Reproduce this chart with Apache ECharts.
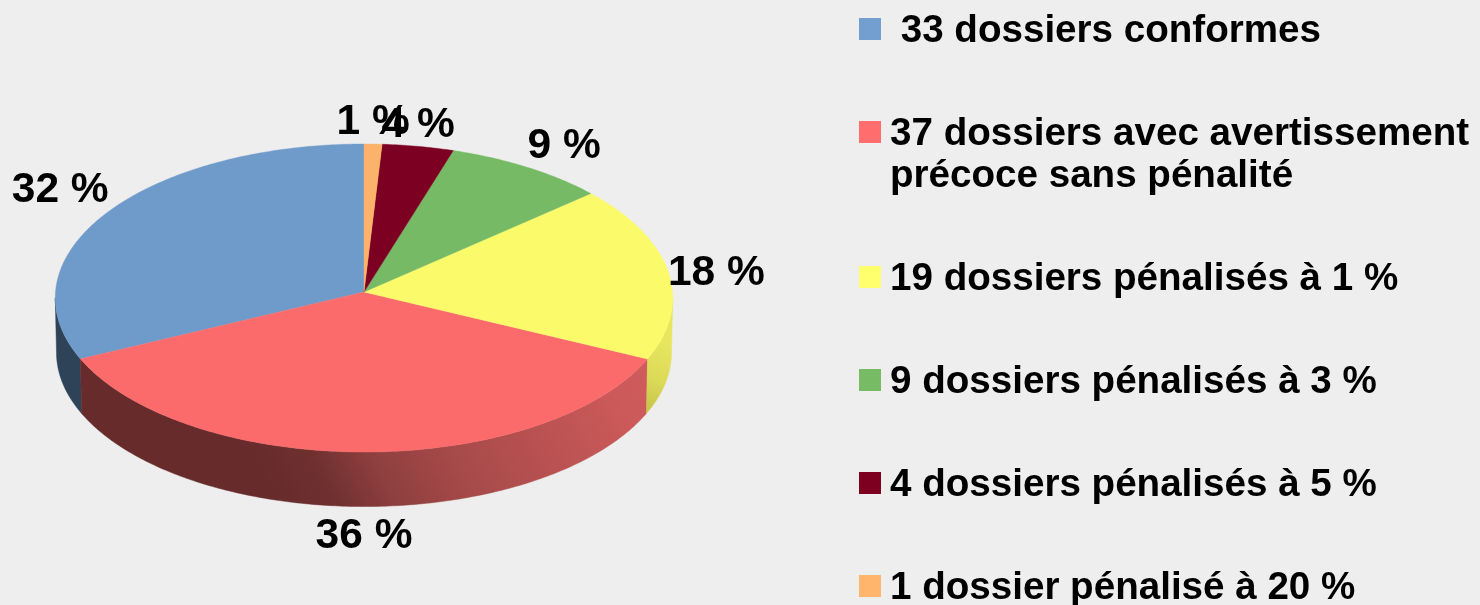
<!DOCTYPE html>
<html>
<head>
<meta charset="utf-8">
<style>html,body{margin:0;padding:0;background:#eeeeee;overflow:hidden}#c{width:1480px;height:605px}</style>
<script src="https://cdn.jsdelivr.net/npm/echarts@6/dist/echarts.min.js"></script>
</head>
<body>
<div id="c"></div>
<script>
const categories = [
  "\u00a033 dossiers conformes",
  "37 dossiers avec avertissement\nprécoce sans pénalité",
  "19 dossiers pénalisés à 1 %",
  "9 dossiers pénalisés à 3 %",
  "4 dossiers pénalisés à 5 %",
  "1 dossier pénalisé à 20 %"
];
const values = [33, 37, 19, 9, 4, 1];
const percentLabels = ["32 %", "36 %", "18 %", "9 %", "4 %", "1 %"];
const topColors = ["#6f9bcb", "#fc6b6b", "#fafa6a", "#76ba65", "#7b0022", "#fbb26a"];
const legendColors = ["#729fcf", "#ff6d6d", "#ffff6d", "#77bc65", "#7e0021", "#ffb66c"];
const wallColors = ["#2f4358", "", "", "#3f6035", "#42000f", "#855e36"];

const FONT = "Liberation Sans";
const apex = [364, 292], A = 308.5, B = 153.8, K = 0.039, DEPTH = 54.5, BASE_SCALE = 0.996;
const total = values.reduce((a, b) => a + b, 0);
const silhouette = Math.acos(-K);

function project(theta, dy, sx) {
  const s = -Math.sin(theta), c = Math.cos(theta), d = 1 + K * c;
  return [apex[0] + A * (sx || 1) * s / d, apex[1] - B * c / d + (dy || 0)];
}
function arc(a0, a1, dy, sx) {
  const n = Math.max(2, Math.ceil(Math.abs(a1 - a0) / 0.012)), out = [];
  for (let i = 0; i <= n; i++) out.push(project(a0 + (a1 - a0) * i / n, dy, sx));
  return out;
}
function angleOf(sum) { return sum / total * Math.PI * 2; }

const redWall = new echarts.graphic.LinearGradient(270, 500, 640, 310, [
  { offset: 0, color: "#672b2b" },
  { offset: 0.13, color: "#6e2f2f" },
  { offset: 0.27, color: "#8f3f3f" },
  { offset: 0.449, color: "#a84a4a" },
  { offset: 0.86, color: "#cd5a5a" },
  { offset: 1, color: "#d05c5c" }
], true);
const yellowWall = new echarts.graphic.LinearGradient(648, 405, 672, 345, [
  { offset: 0, color: "#c8c84c" },
  { offset: 0.4, color: "#dcd958" },
  { offset: 1, color: "#e8e55e" }
], true);

function renderSlice(i) {
  return function () {
    const before = values.slice(0, i).reduce((a, b) => a + b, 0);
    const a0 = angleOf(before), a1 = angleOf(before + values[i]);
    const children = [];
    const w0 = Math.max(a0, silhouette), w1 = Math.min(a1, Math.PI * 2 - silhouette);
    if (w1 > w0) {
      const fill = i === 1 ? redWall : i === 2 ? yellowWall : wallColors[i];
      children.push({
        type: "polygon",
        shape: { points: arc(w0, w1, 0).concat(arc(w1, w0, DEPTH, BASE_SCALE)) },
        style: { fill: fill, stroke: fill, lineWidth: 0.5 }
      });
    }
    children.push({
      type: "polygon",
      shape: { points: [apex].concat(arc(a0, a1, 0)) },
      style: { fill: topColors[i], stroke: topColors[i], lineWidth: 0.4 }
    });
    const mid = (a0 + a1) / 2, s = -Math.sin(mid), c = Math.cos(mid);
    const front = c < -0.3;
    const p = project(mid, front ? DEPTH : 0);
    children.push({
      type: "text",
      z2: 100,
      style: {
        x: p[0],
        y: p[1] + (front ? 8 : c > 0.3 ? 0 : 2),
        text: percentLabels[i],
        font: "bold 42.5px '" + FONT + "'",
        fill: "#000",
        align: s > 0.3 ? "left" : s < -0.3 ? "right" : "center",
        verticalAlign: c > 0.3 ? "bottom" : front ? "top" : "middle"
      }
    });
    return { type: "group", children: children };
  };
}

const legendBase = {
  orient: "vertical",
  left: 859,
  height: 1200,
  padding: 0,
  itemWidth: 22,
  itemHeight: 26,
  itemGap: 61,
  selectedMode: false,
  // a 22px square sitting at the top of a 26px box, so the text sits 2px lower than the icon
  icon: "path://M0 0L22 0L22 22L0 22ZM0 26L0 26",
  formatter: n => n.split("\n")[0],
  textStyle: {
    fontFamily: FONT, fontWeight: "bold", fontSize: 38.6, lineHeight: 42,
    color: "#000", padding: [0, 0, 0, 4]
  }
};

const chart = echarts.init(document.getElementById("c"), null, { renderer: "canvas" });
chart.setOption({
  animation: false,
  backgroundColor: "#eeeeee",
  tooltip: { show: false },
  legend: [
    Object.assign({}, legendBase, { top: 10, data: categories.slice(0, 2) }),
    Object.assign({}, legendBase, { top: 258, data: categories.slice(2) })
  ],
  graphic: [{
    type: "text",
    left: 890,
    top: 157,
    style: {
      text: categories[1].split("\n")[1],
      font: "bold 38.6px '" + FONT + "'",
      fill: "#000"
    }
  }],
  series: categories.map((name, i) => ({
    type: "custom",
    name: name,
    coordinateSystem: "none",
    silent: true,
    itemStyle: { color: legendColors[i] },
    renderItem: renderSlice(i),
    data: [values[i]]
  }))
});
</script>
</body>
</html>
